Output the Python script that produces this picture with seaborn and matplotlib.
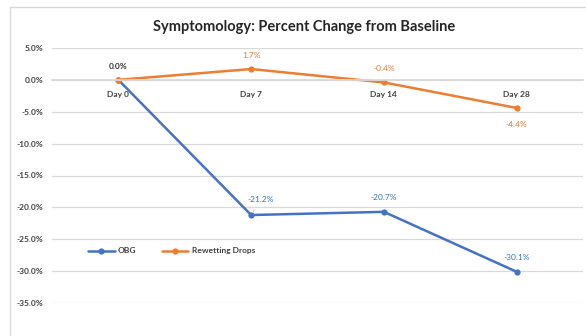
import matplotlib
matplotlib.use("Agg")
import matplotlib.pyplot as plt
from matplotlib.patches import Rectangle
from matplotlib.ticker import FuncFormatter
import seaborn as sns
import pandas as pd

days = ["Day 0", "Day 7", "Day 14", "Day 28"]
obg = [0.0, -21.2, -20.7, -30.1]
rewetting = [0.0, 1.7, -0.4, -4.4]
series_names = ["OBG", "Rewetting Drops"]
colors = {"OBG": "#4472C4", "Rewetting Drops": "#ED7D31"}
label_colors = {"OBG": "#2E75B6", "Rewetting Drops": "#E07B39"}

df = pd.DataFrame({
    "day": days * 2,
    "pct": obg + rewetting,
    "series": [series_names[0]] * 4 + [series_names[1]] * 4,
})

sns.set_theme(style="white")
plt.rcParams["font.family"] = ["Lato", "DejaVu Sans"]

fig = plt.figure(figsize=(5.86, 3.36), dpi=100)
ax = fig.add_axes([52 / 586, 1 - 303 / 336, 531 / 586, 255 / 336])

# chart-area frame
fig.patches.append(Rectangle((10 / 586, -0.01), 1.0, 1 - 7 / 336 + 0.01,
                             transform=fig.transFigure, fill=False,
                             edgecolor="#d9d9d9", linewidth=1.0))

sns.lineplot(data=df, x="day", y="pct", hue="series", palette=colors,
             marker="o", markersize=4.5, markeredgewidth=0, linewidth=1.8,
             sort=False, ax=ax)

ax.set_xlim(-0.5, 3.5)
ax.set_ylim(-35, 5)
ax.set_yticks(range(-35, 6, 5))
ax.yaxis.set_major_formatter(FuncFormatter(lambda v, p: f"{v:.1f}%"))
ax.grid(axis="y", color="#d9d9d9", linewidth=0.9)
ax.set_axisbelow(True)
for s in ["top", "right", "left"]:
    ax.spines[s].set_visible(False)
ax.spines["bottom"].set_position(("data", 0))
ax.spines["bottom"].set_color("#d9d9d9")
ax.tick_params(axis="both", length=0, labelsize=6, colors="#404040")
ax.tick_params(axis="x", pad=8)
ax.tick_params(axis="y", pad=6)
for t in ax.get_xticklabels() + ax.get_yticklabels():
    t.set_fontweight("bold")
ax.set_xlabel("")
ax.set_ylabel("")

# data labels
offsets_rw = [(0, 9.5), (0, 9.5), (0, 10), (0, -12)]
for i, v in enumerate(rewetting):
    c = "#333333" if i == 0 else label_colors["Rewetting Drops"]
    ax.annotate(f"{v:.1f}%", (i, v), xytext=offsets_rw[i], textcoords="offset points",
                ha="center", va="center", fontsize=6, color=c,
                fontweight="bold" if i == 0 else "normal")
offsets_obg = [None, (7, 11), (0, 10), (0, 10)]
for i, v in enumerate(obg):
    if offsets_obg[i] is None:
        continue
    arrow = dict(arrowstyle="-", color="#bfbfbf", lw=0.6, shrinkA=3, shrinkB=2) if i == 1 else None
    ax.annotate(f"{v:.1f}%", (i, v), xytext=offsets_obg[i], textcoords="offset points",
                ha="center", va="center", fontsize=6, color=label_colors["OBG"],
                arrowprops=arrow)

fig.text(304 / 586, 1 - 27 / 336, "Symptomology: Percent Change from Baseline",
         ha="center", va="center", fontsize=10.5, fontweight="bold", color="#262626")

leg = ax.legend(loc="center", bbox_to_anchor=(0.225, 0.204), ncol=2, frameon=False,
                fontsize=6, handlelength=3.2, columnspacing=3.0, handletextpad=0.4)
for t in leg.get_texts():
    t.set_fontweight("bold")
    t.set_color("#404040")

fig.savefig("out.png", dpi=100, facecolor="white")
